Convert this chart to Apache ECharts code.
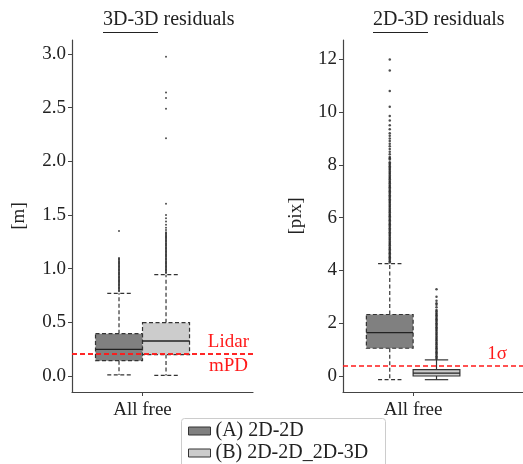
<!DOCTYPE html>
<html>
<head>
<meta charset="utf-8">
<style>
  html, body { margin: 0; padding: 0; background: #fff; }
  #chart { width: 523px; height: 464px; }
</style>
<script src="https://cdn.jsdelivr.net/npm/echarts@6/dist/echarts.min.js"></script>
</head>
<body>
<div id="chart"></div>
<script>
const seriesNames = ['(A) 2D-2D', '(B) 2D-2D_2D-3D'];
const categoryLabel = 'All free';

// box stats: [position, whiskerLow, q1, median, q3, whiskerHigh]
const box3dA = [-0.2, 0.01, 0.143, 0.248, 0.394, 0.77];
const box3dB = [0.2, 0.005, 0.2, 0.326, 0.497, 0.944];
const box2dA = [-0.2, -0.14, 1.05, 1.645, 2.33, 4.26];
const box2dB = [0.2, -0.14, 0.0, 0.11, 0.24, 0.61];

// outliers
const out3dA = [0.79, 0.80, 0.81, 0.82, 0.83, 0.84, 0.85, 0.86, 0.87, 0.88, 0.89, 0.90,
  0.91, 0.92, 0.93, 0.94, 0.95, 0.96, 0.97, 0.98, 0.99, 1.00, 1.01, 1.02, 1.03, 1.04,
  1.05, 1.06, 1.07, 1.08, 1.09, 1.10, 1.35];
const out3dB = [0.96, 0.97, 0.98, 0.99, 1.00, 1.01, 1.02, 1.03, 1.04, 1.05, 1.06, 1.07,
  1.08, 1.09, 1.10, 1.11, 1.12, 1.13, 1.14, 1.15, 1.16, 1.17, 1.18, 1.19, 1.20, 1.21,
  1.22, 1.23, 1.24, 1.25, 1.26, 1.27, 1.28, 1.29, 1.30, 1.31, 1.32, 1.33, 1.34, 1.36,
  1.38, 1.41, 1.44, 1.47, 1.50, 1.605, 2.215, 2.49, 2.59, 2.64, 2.975];
const out2dA = [4.30, 4.35, 4.40, 4.45, 4.50, 4.55, 4.60, 4.65, 4.70, 4.75, 4.80, 4.85,
  4.90, 4.95, 5.00, 5.05, 5.10, 5.15, 5.20, 5.25, 5.30, 5.35, 5.40, 5.45, 5.50, 5.55,
  5.60, 5.65, 5.70, 5.75, 5.80, 5.85, 5.90, 5.95, 6.00, 6.05, 6.10, 6.15, 6.20, 6.25,
  6.30, 6.35, 6.40, 6.45, 6.50, 6.55, 6.60, 6.65, 6.70, 6.75, 6.80, 6.85, 6.90, 6.95,
  7.00, 7.05, 7.10, 7.15, 7.20, 7.25, 7.30, 7.35, 7.40, 7.45, 7.50, 7.55, 7.60, 7.65,
  7.70, 7.75, 7.80, 7.85, 7.90, 7.95, 8.00, 8.05, 8.10, 8.2, 8.25, 8.3, 8.4, 8.5, 8.6,
  8.7, 8.8, 8.9, 9.0, 9.1, 9.2, 9.35, 9.5, 9.68, 9.85, 10.2, 10.8, 11.57, 11.99];
const out2dB = [0.65, 0.7, 0.75, 0.8, 0.85, 0.9, 0.95, 1.0, 1.05, 1.1, 1.15, 1.2, 1.25,
  1.3, 1.35, 1.4, 1.45, 1.5, 1.55, 1.6, 1.65, 1.7, 1.75, 1.8, 1.85, 1.9, 1.95, 2.0,
  2.05, 2.1, 2.15, 2.2, 2.25, 2.3, 2.35, 2.4, 2.45, 2.5, 2.6, 2.7, 2.76, 2.85, 3.0, 3.29];

const ticks3d = [0.0, 0.5, 1.0, 1.5, 2.0, 2.5, 3.0];
const ticks2d = [0, 2, 4, 6, 8, 10, 12];
const lidarLine = 0.214;
const sigmaLine = 0.39;

const serif = "'Liberation Serif', 'DejaVu Serif', serif";
const ink = '#222';
const colorA = '#808080';
const colorB = '#cccccc';

function boxSeries(name, box, grid, fill, dashed) {
  return {
    type: 'custom',
    name: name,
    xAxisIndex: grid,
    yAxisIndex: grid,
    itemStyle: { color: fill },
    encode: { x: 0, y: [1, 2, 3, 4, 5] },
    data: [box],
    silent: true,
    renderItem: function (params, api) {
      const x = api.value(0);
      const w = api.size([0.4, 0])[0];
      const capW = w / 2;
      const pLow = api.coord([x, api.value(1)]);
      const pQ1 = api.coord([x, api.value(2)]);
      const pMed = api.coord([x, api.value(3)]);
      const pQ3 = api.coord([x, api.value(4)]);
      const pHigh = api.coord([x, api.value(5)]);
      const cx = pMed[0];
      const dash = dashed ? [4, 2.5] : null;
      const edge = { stroke: '#333', lineWidth: 1.2, lineDash: dash, fill: null };
      return {
        type: 'group',
        children: [
          { type: 'line', shape: { x1: cx, y1: pQ3[1], x2: cx, y2: pHigh[1] }, style: edge },
          { type: 'line', shape: { x1: cx, y1: pQ1[1], x2: cx, y2: pLow[1] }, style: edge },
          { type: 'line', shape: { x1: cx - capW / 2, y1: pHigh[1], x2: cx + capW / 2, y2: pHigh[1] }, style: edge },
          { type: 'line', shape: { x1: cx - capW / 2, y1: pLow[1], x2: cx + capW / 2, y2: pLow[1] }, style: edge },
          {
            type: 'rect',
            shape: { x: cx - w / 2, y: pQ3[1], width: w, height: pQ1[1] - pQ3[1] },
            style: { fill: fill, stroke: '#333', lineWidth: 1.2, lineDash: dash }
          },
          { type: 'line', shape: { x1: cx - w / 2, y1: pMed[1], x2: cx + w / 2, y2: pMed[1] }, style: { stroke: ink, lineWidth: 1.3 } }
        ]
      };
    }
  };
}

function outlierSeries(values, pos, grid, size) {
  return {
    type: 'scatter',
    xAxisIndex: grid,
    yAxisIndex: grid,
    symbolSize: size,
    itemStyle: { color: ink },
    silent: true,
    data: values.map(v => [pos, v])
  };
}

function xAxisFor(grid) {
  return {
    type: 'value',
    gridIndex: grid,
    min: -0.6,
    max: 0.94,
    axisLine: { show: true, onZero: false, lineStyle: { color: '#444', width: 1.2 } },
    axisTick: { show: true, length: 4, customValues: [0], lineStyle: { color: '#444' } },
    axisLabel: { customValues: [0], formatter: () => categoryLabel, margin: 9, color: ink, fontFamily: serif, fontSize: 19 },
    splitLine: { show: false }
  };
}

function yAxisFor(grid, min, max, ticks, name, gap, digits) {
  return {
    type: 'value',
    gridIndex: grid,
    min: min,
    max: max,
    name: name,
    nameLocation: 'middle',
    nameGap: gap,
    nameTextStyle: { color: ink, fontFamily: serif, fontSize: 19 },
    axisLine: { show: true, onZero: false, lineStyle: { color: '#444', width: 1.2 } },
    axisTick: { show: true, length: 4, customValues: ticks, lineStyle: { color: '#444' } },
    axisLabel: { customValues: ticks, formatter: v => v.toFixed(digits), margin: 6, color: ink, fontFamily: serif, fontSize: 19 },
    splitLine: { show: false }
  };
}

function refLine(grid, y, labels) {
  return {
    type: 'line',
    xAxisIndex: grid,
    yAxisIndex: grid,
    data: [],
    silent: true,
    markLine: {
      symbol: 'none',
      silent: true,
      animation: false,
      lineStyle: { color: '#ff1a1a', type: [5, 3], width: 1.5 },
      data: labels.map(l => ({
        yAxis: y,
        label: {
          show: true,
          formatter: l.text,
          position: l.position,
          distance: l.distance,
          padding: [0, l.inset, 0, 0],
          color: '#ff1a1a',
          fontFamily: serif,
          fontSize: 19
        }
      }))
    }
  };
}

function legendRow(name, fill, top) {
  return {
    left: 188,
    top: top,
    padding: 0,
    itemWidth: 22,
    itemHeight: 8,
    itemGap: 0,
    selectedMode: false,
    textStyle: { color: ink, fontFamily: serif, fontSize: 20, lineHeight: 20 },
    data: [{ name: name, icon: 'rect', itemStyle: { color: fill, borderColor: '#333', borderWidth: 1 } }]
  };
}

const chart = echarts.init(document.getElementById('chart'), null, { renderer: 'canvas' });

chart.setOption({
  animation: false,
  backgroundColor: '#fff',
  grid: [
    { left: 72, top: 40, width: 181, height: 352 },
    { left: 343, top: 40, width: 181, height: 352 }
  ],
  xAxis: [xAxisFor(0), xAxisFor(1)],
  yAxis: [
    yAxisFor(0, -0.149, 3.13, ticks3d, '[m]', 43, 1),
    yAxisFor(1, -0.607, 12.73, ticks2d, '[pix]', 37, 0)
  ],
  legend: [
    legendRow(seriesNames[0], colorA, 421),
    legendRow(seriesNames[1], colorB, 443)
  ],
  graphic: [
    { type: 'rect', z: 1, shape: { x: 181.5, y: 418.5, width: 204, height: 60, r: 3 }, style: { fill: '#fff', stroke: '#ccc', lineWidth: 1 } },
    { type: 'text', left: 103, top: 10, style: { text: '3D-3D residuals', font: '20px ' + serif, fill: ink } },
    { type: 'line', shape: { x1: 103, y1: 32.5, x2: 158, y2: 32.5 }, style: { stroke: ink, lineWidth: 1 } },
    { type: 'text', left: 373, top: 10, style: { text: '2D-3D residuals', font: '20px ' + serif, fill: ink } },
    { type: 'line', shape: { x1: 373, y1: 32.5, x2: 428, y2: 32.5 }, style: { stroke: ink, lineWidth: 1 } }
  ],
  series: [
    refLine(0, lidarLine, [
      { text: 'Lidar', position: 'insideEndTop', distance: 2, inset: 2 },
      { text: 'mPD', position: 'insideEndBottom', distance: 3, inset: 2 }
    ]),
    refLine(1, sigmaLine, [
      { text: '1σ', position: 'insideEndTop', distance: 2, inset: 14 }
    ]),
    boxSeries(seriesNames[0], box3dA, 0, colorA, true),
    boxSeries(seriesNames[1], box3dB, 0, colorB, true),
    boxSeries(seriesNames[0], box2dA, 1, colorA, true),
    boxSeries(seriesNames[1], box2dB, 1, colorB, false),
    outlierSeries(out3dA, -0.2, 0, 2),
    outlierSeries(out3dB, 0.2, 0, 2),
    outlierSeries(out2dA, -0.2, 1, 2.5),
    outlierSeries(out2dB, 0.2, 1, 2.5)
  ]
});
</script>
</body>
</html>
